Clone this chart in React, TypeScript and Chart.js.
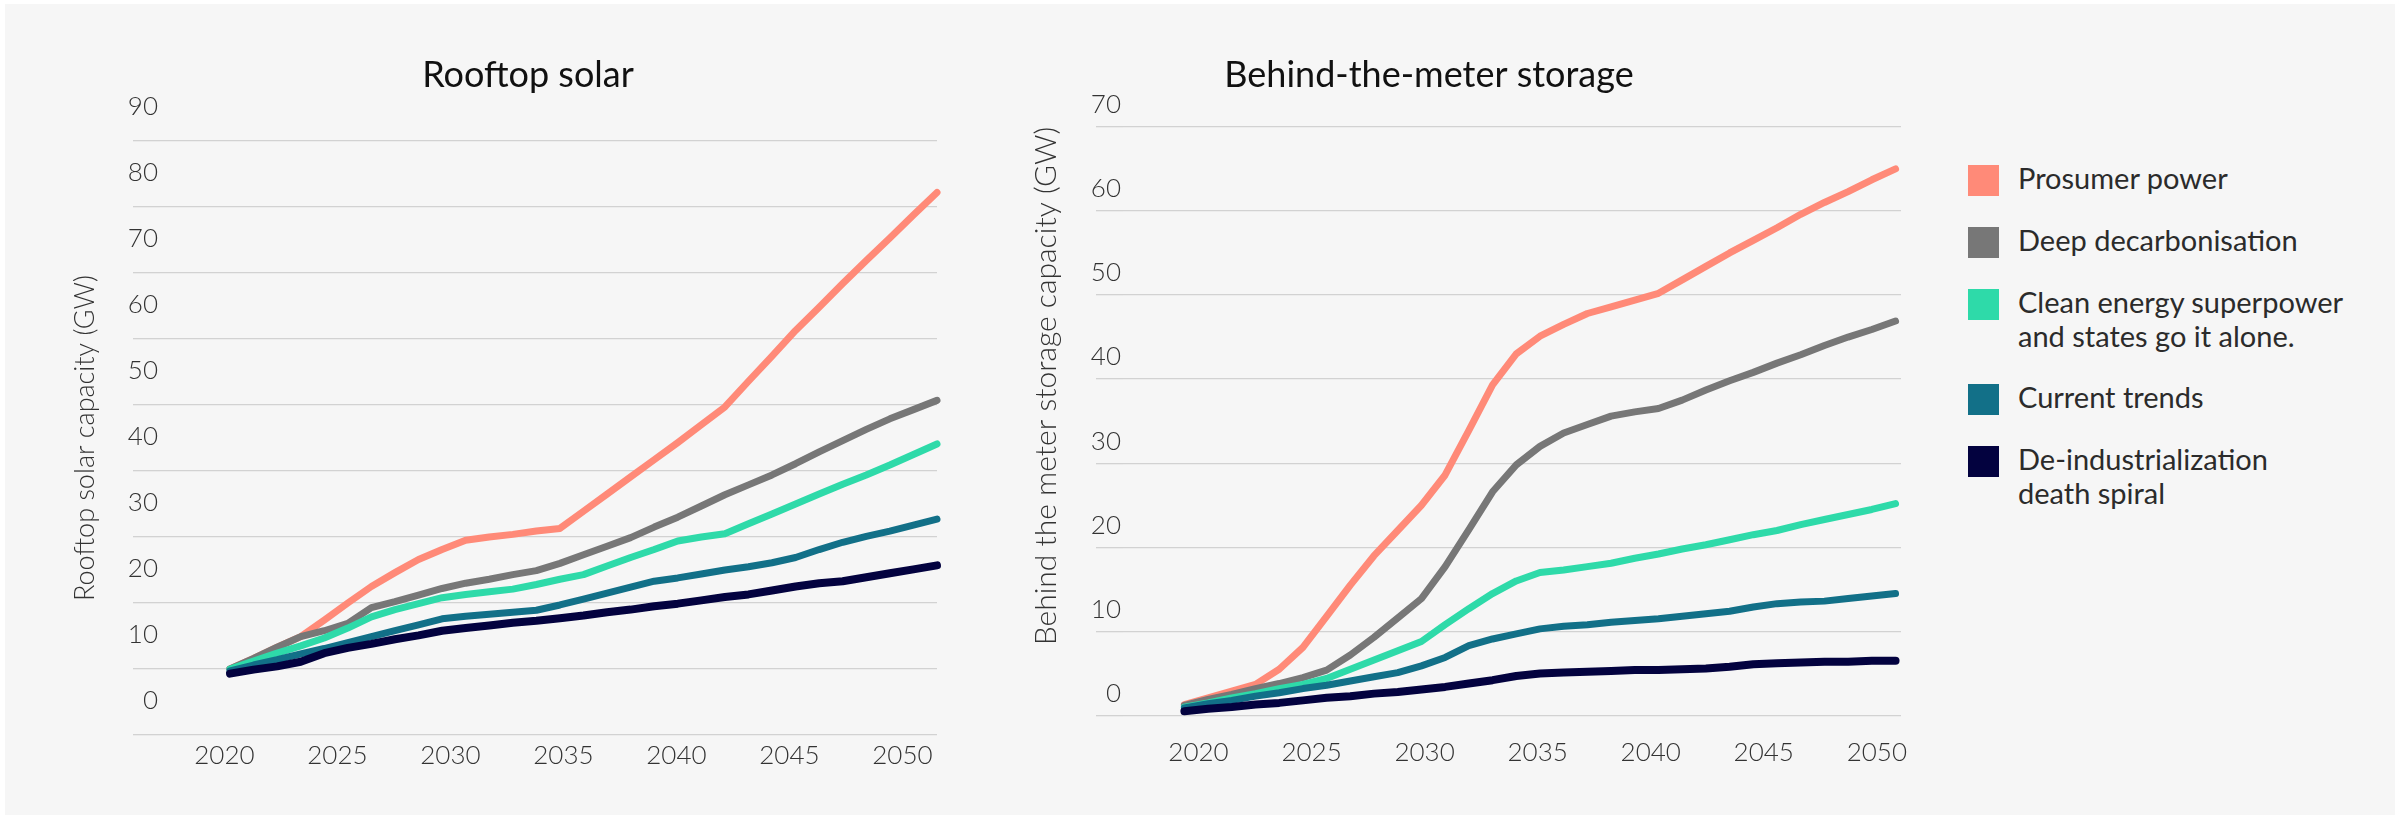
import React, { useEffect, useRef } from "react";
import { Chart, registerables } from "chart.js";

Chart.register(...registerables);

// ---------- DATA ----------
const years = [
  2020, 2021, 2022, 2023, 2024, 2025, 2026, 2027, 2028, 2029, 2030,
  2031, 2032, 2033, 2034, 2035, 2036, 2037, 2038, 2039, 2040,
  2041, 2042, 2043, 2044, 2045, 2046, 2047, 2048, 2049, 2050,
];
const xTickYears = [2020, 2025, 2030, 2035, 2040, 2045, 2050];
const solarYTicks = [0, 10, 20, 30, 40, 50, 60, 70, 80, 90];
const storageYTicks = [0, 10, 20, 30, 40, 50, 60, 70];

const seriesNames = [
  "Prosumer power",
  "Deep decarbonisation",
  "Clean energy superpower and states go it alone.",
  "Current trends",
  "De-industrialization death spiral",
];
const legendLines = [
  ["Prosumer power"],
  ["Deep decarbonisation"],
  ["Clean energy superpower", "and states go it alone."],
  ["Current trends"],
  ["De-industrialization", "death spiral"],
];
const seriesColors = ["#FF8A78", "#777777", "#2EDAA9", "#127088", "#03023F"];

// Rooftop solar capacity (GW)
const solarProsumer = [10.0, 11.6, 13.3, 14.9, 17.4, 20.0, 22.5, 24.6, 26.6, 28.1, 29.5, 30.0, 30.4, 30.9, 31.3, 33.9, 36.5, 39.1, 41.7, 44.3, 47.0, 49.7, 53.6, 57.4, 61.3, 64.8, 68.4, 71.9, 75.3, 78.8, 82.2];
const solarDeep = [10.0, 11.6, 13.3, 14.9, 15.8, 16.9, 19.3, 20.2, 21.2, 22.2, 23.0, 23.6, 24.3, 24.9, 26.0, 27.3, 28.6, 29.9, 31.5, 33.0, 34.7, 36.4, 37.9, 39.4, 41.1, 42.9, 44.6, 46.3, 47.9, 49.3, 50.7];
const solarClean = [10.0, 11.2, 12.4, 13.5, 14.7, 16.2, 17.9, 19.0, 19.9, 20.8, 21.3, 21.7, 22.1, 22.8, 23.6, 24.3, 25.6, 26.9, 28.1, 29.4, 30.0, 30.5, 32.0, 33.5, 35.0, 36.5, 38.0, 39.4, 40.9, 42.5, 44.1];
const solarCurrent = [9.7, 10.6, 11.4, 12.3, 13.1, 14.0, 14.9, 15.8, 16.7, 17.6, 18.0, 18.3, 18.6, 18.9, 19.7, 20.6, 21.5, 22.4, 23.3, 23.8, 24.4, 25.0, 25.5, 26.1, 26.9, 28.1, 29.2, 30.1, 30.9, 31.8, 32.7];
const solarDeind = [9.3, 9.9, 10.4, 11.1, 12.4, 13.2, 13.8, 14.5, 15.1, 15.8, 16.2, 16.6, 17.0, 17.3, 17.7, 18.1, 18.6, 19.0, 19.5, 19.9, 20.4, 20.9, 21.3, 21.9, 22.5, 23.0, 23.3, 23.9, 24.5, 25.1, 25.7];

// Behind-the-meter storage capacity (GW)
const storageProsumer = [1.3, 2.1, 2.9, 3.7, 5.5, 8.1, 11.8, 15.5, 19.0, 22.0, 25.0, 28.6, 33.9, 39.3, 43.0, 45.1, 46.5, 47.8, 48.6, 49.4, 50.2, 51.8, 53.4, 55.0, 56.5, 58.0, 59.6, 61.0, 62.3, 63.7, 65.0];
const storageDeep = [1.2, 1.9, 2.5, 3.2, 3.8, 4.5, 5.4, 7.2, 9.3, 11.6, 13.9, 17.7, 22.1, 26.6, 29.8, 32.0, 33.6, 34.6, 35.6, 36.1, 36.5, 37.5, 38.7, 39.8, 40.8, 41.9, 42.9, 44.0, 45.0, 45.9, 46.9];
const storageClean = [1.0, 1.5, 2.1, 2.6, 3.2, 3.7, 4.4, 5.5, 6.6, 7.7, 8.8, 10.8, 12.7, 14.5, 16.0, 17.0, 17.3, 17.7, 18.1, 18.7, 19.2, 19.8, 20.3, 20.9, 21.5, 22.0, 22.7, 23.3, 23.9, 24.5, 25.2];
const storageCurrent = [0.9, 1.4, 1.8, 2.3, 2.7, 3.2, 3.6, 4.1, 4.6, 5.1, 5.9, 6.9, 8.3, 9.1, 9.7, 10.3, 10.6, 10.8, 11.1, 11.3, 11.5, 11.8, 12.1, 12.4, 12.9, 13.3, 13.5, 13.6, 13.9, 14.2, 14.5];
const storageDeind = [0.5, 0.8, 1.0, 1.3, 1.5, 1.8, 2.1, 2.3, 2.6, 2.8, 3.1, 3.4, 3.8, 4.2, 4.7, 5.0, 5.1, 5.2, 5.3, 5.4, 5.4, 5.5, 5.6, 5.8, 6.1, 6.2, 6.3, 6.4, 6.4, 6.5, 6.5];

const solarSeries = [solarProsumer, solarDeep, solarClean, solarCurrent, solarDeind];
const storageSeries = [storageProsumer, storageDeep, storageClean, storageCurrent, storageDeind];

// ---------- CHART ----------
const FONT = "Lato, 'Noto Sans', sans-serif";

type PanelSpec = {
  title: string;
  yTitle: string;
  yTitleAlign: "center" | "end";
  yTitleSize: number;
  series: number[][];
  yTicks: number[];
  yMax: number;
  xMin: number;
  xMax: number;
  labelMin: number;
  labelMax: number;
  yAxisWidth: number;
  yTitleGap: number;
  yLabelOffset: number;
  rightSpace: number;
  titlePadBottom: number;
  xAxisHeight: number;
  xLabelPad: number;
  width: number;
};

function buildConfig(p: PanelSpec): any {
  return {
    type: "line",
    data: {
      datasets: p.series.map((vals, i) => ({
        label: seriesNames[i],
        data: years.map((yr, j) => ({ x: yr, y: vals[j] })),
        borderColor: seriesColors[i],
        backgroundColor: seriesColors[i],
        borderWidth: i === 4 ? 8 : 7,
        pointRadius: 0,
        tension: 0,
        borderCapStyle: "round",
        borderJoinStyle: "round",
        clip: false,
        order: 5 - i,
        xAxisID: "x",
        yAxisID: "y",
      })),
    },
    options: {
      responsive: false,
      animation: false,
      devicePixelRatio: 1,
      layout: { padding: 0 },
      plugins: {
        legend: { display: false },
        tooltip: { enabled: false },
        title: {
          display: true,
          text: p.title,
          color: "#111111",
          font: { family: FONT, size: 36, weight: "normal", lineHeight: 1.2 },
          padding: { top: 53.4, bottom: p.titlePadBottom },
        },
      },
      scales: {
        x: {
          type: "linear",
          display: false,
          min: p.xMin,
          max: p.xMax,
        },
        x2: {
          type: "linear",
          position: "bottom",
          min: p.labelMin,
          max: p.labelMax,
          grid: { display: false, drawTicks: false },
          border: { display: false },
          afterBuildTicks: (s: any) => {
            s.ticks = xTickYears.map((v) => ({ value: v }));
          },
          afterFit: (s: any) => {
            s.height = p.xAxisHeight;
          },
          ticks: {
            autoSkip: false,
            maxRotation: 0,
            padding: p.xLabelPad,
            color: "#333333",
            font: { family: FONT, size: 26, weight: 300, lineHeight: 1.2 },
            callback: (v: any) => String(v),
          },
        },
        y: {
          type: "linear",
          position: "left",
          min: 0,
          max: p.yMax,
          afterBuildTicks: (s: any) => {
            s.ticks = p.yTicks.map((v) => ({ value: v }));
          },
          afterFit: (s: any) => {
            s.width = p.yAxisWidth;
          },
          border: { display: false },
          grid: { color: "#D2D2D2", lineWidth: 1.3, drawTicks: true, tickLength: 27 },
          ticks: {
            padding: -25,
            labelOffset: p.yLabelOffset,
            color: "#333333",
            font: { family: FONT, size: 26, weight: 300, lineHeight: 1.2 },
            callback: (v: any) => String(v),
          },
          title: {
            display: true,
            text: p.yTitle,
            align: p.yTitleAlign,
            color: "#333333",
            font: { family: FONT, size: p.yTitleSize, weight: 300, lineHeight: 1.2 },
            padding: { top: p.yTitleGap, bottom: 0 },
          },
        },
        yR: {
          type: "linear",
          position: "right",
          display: true,
          grid: { display: false, drawTicks: false },
          border: { display: false },
          ticks: { display: false },
          afterFit: (s: any) => {
            s.width = p.rightSpace;
          },
        },
      },
    },
  };
}

function Panel({ spec, left }: { spec: PanelSpec; left: number }) {
  const ref = useRef<HTMLCanvasElement | null>(null);
  useEffect(() => {
    if (!ref.current) return;
    const chart = new Chart(ref.current, buildConfig(spec));
    return () => chart.destroy();
  }, [spec]);
  return (
    <canvas
      ref={ref}
      width={spec.width}
      height={815}
      style={{ position: "absolute", left, top: 0, width: spec.width, height: 815 }}
    />
  );
}

const solarSpec: PanelSpec = {
  title: "Rooftop solar",
  yTitle: "Rooftop solar capacity (GW)",
  yTitleAlign: "center",
  yTitleSize: 27,
  series: solarSeries,
  yTicks: solarYTicks,
  yMax: 90,
  xMin: 2017.03,
  xMax: 2050.0,
  labelMin: 2017.15,
  labelMax: 2051.53,
  yAxisWidth: 120,
  yTitleGap: 28.8,
  yLabelOffset: -34,
  rightSpace: 79,
  titlePadBottom: 44.4,
  xAxisHeight: 80,
  xLabelPad: 5,
  width: 976,
};

const storageSpec: PanelSpec = {
  title: "Behind-the-meter storage",
  yTitle: "Behind the meter storage capacity (GW)",
  yTitleAlign: "end",
  yTitleSize: 30,
  series: storageSeries,
  yTicks: storageYTicks,
  yMax: 70,
  xMin: 2017.41,
  xMax: 2050.23,
  labelMin: 2016.66,
  labelMax: 2051.07,
  yAxisWidth: 198,
  yTitleGap: 103,
  yLabelOffset: -22,
  rightSpace: 32,
  titlePadBottom: 30.2,
  xAxisHeight: 99.5,
  xLabelPad: 22,
  width: 1008,
};

function Legend() {
  return (
    <div
      style={{
        position: "absolute",
        left: 1968,
        top: 165,
        display: "flex",
        flexDirection: "column",
        gap: 31,
        fontFamily: FONT,
        fontSize: 29,
        lineHeight: "34px",
        color: "#2B2B2B",
      }}
    >
      {legendLines.map((lines, i) => (
        <div key={i} style={{ display: "flex", alignItems: "flex-start" }}>
          <div style={{ width: 31, height: 31, background: seriesColors[i], flex: "none" }} />
          <div style={{ marginLeft: 19, marginTop: -4, whiteSpace: "nowrap" }}>
            {lines.map((t, k) => (
              <div key={k}>{t}</div>
            ))}
          </div>
        </div>
      ))}
    </div>
  );
}

export default function App() {
  return (
    <div
      style={{
        position: "fixed",
        left: 0,
        top: 0,
        width: 2407,
        height: 815,
        background: "#ffffff",
        overflow: "hidden",
      }}
    >
      <div
        style={{
          position: "absolute",
          left: 5,
          top: 4,
          width: 2390,
          height: 811,
          background: "#F6F6F6",
        }}
      />
      <Panel spec={solarSpec} left={40} />
      <Panel spec={storageSpec} left={925} />
      <Legend />
    </div>
  );
}
